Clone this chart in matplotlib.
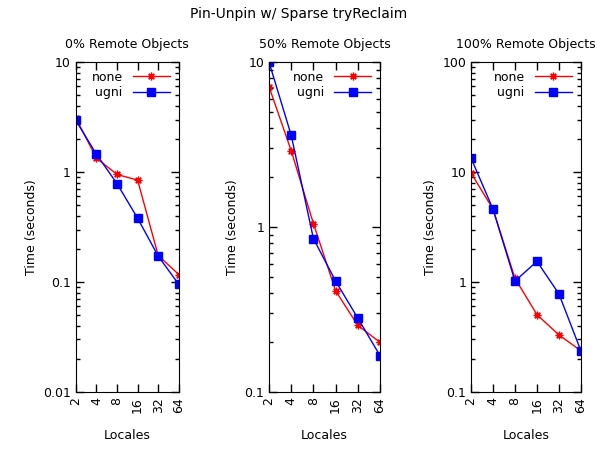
import numpy as np
import matplotlib
matplotlib.use('Agg')
import matplotlib.pyplot as plt
from matplotlib.ticker import FixedLocator, LogLocator, NullFormatter

locales = [2, 4, 8, 16, 32, 64]
titles = ['0% Remote Objects', '50% Remote Objects', '100% Remote Objects']

none_0 = [3.1, 1.34, 0.95, 0.845, 0.174, 0.117]
ugni_0 = [2.95, 1.45, 0.785, 0.38, 0.172, 0.095]

none_50 = [7.1, 2.9, 1.05, 0.41, 0.253, 0.2]
ugni_50 = [10.0, 3.6, 0.85, 0.47, 0.28, 0.166]

none_100 = [9.8, 4.6, 1.08, 0.505, 0.33, 0.237]
ugni_100 = [13.4, 4.6, 1.02, 1.54, 0.78, 0.237]

ylims = [(0.01, 10), (0.1, 10), (0.1, 100)]
yticks = [[0.01, 0.1, 1, 10], [0.1, 1, 10], [0.1, 1, 10, 100]]
ylabels = [['0.01', '0.1', '1', '10'], ['0.1', '1', '10'], ['0.1', '1', '10', '100']]


def draw(ax, none, ugni, title, ylim, ticks, labels):
    ax.plot(locales, none, color='#ff0000', lw=1, marker=(8, 2, 0),
            ms=5.5, mew=0.9, label='none')
    ax.plot(locales, ugni, color='#0000ff', lw=1, marker='s',
            ms=5.5, label='ugni')
    ax.set_xscale('log', base=2)
    ax.set_yscale('log')
    ax.set_xlim(2, 64)
    ax.set_ylim(*ylim)
    ax.xaxis.set_major_locator(FixedLocator(locales))
    ax.set_xticklabels([str(v) for v in locales], rotation=90)
    ax.xaxis.set_minor_locator(FixedLocator([]))
    ax.yaxis.set_major_locator(FixedLocator(ticks))
    ax.set_yticklabels(labels)
    ax.yaxis.set_minor_locator(LogLocator(base=10, subs=np.arange(2, 10)))
    ax.yaxis.set_minor_formatter(NullFormatter())
    ax.tick_params(which='both', direction='in', top=True, right=True,
                   labelsize=9, width=1)
    ax.tick_params(which='major', length=6)
    ax.tick_params(which='minor', length=3)
    ax.set_title(title, fontsize=9, pad=10)
    ax.set_xlabel('Locales', fontsize=9, labelpad=12)
    ax.set_ylabel('Time (seconds)', fontsize=9)
    ax.legend(loc='upper right', frameon=False, markerfirst=False,
              fontsize=9, handlelength=3, borderaxespad=0.3,
              labelspacing=0.2)


def main():
    fig = plt.figure(figsize=(5.97, 4.5), dpi=100)
    rects = [[0.127, 0.129, 0.1725, 0.733],
             [0.4506, 0.129, 0.186, 0.733],
             [0.789, 0.129, 0.184, 0.733]]
    data = [(none_0, ugni_0), (none_50, ugni_50), (none_100, ugni_100)]
    for i in range(3):
        ax = fig.add_axes(rects[i])
        draw(ax, data[i][0], data[i][1], titles[i], ylims[i],
             yticks[i], ylabels[i])
    fig.suptitle('Pin-Unpin w/ Sparse tryReclaim', fontsize=10, y=0.985)
    fig.savefig('out.png', dpi=100)


if __name__ == '__main__':
    main()
